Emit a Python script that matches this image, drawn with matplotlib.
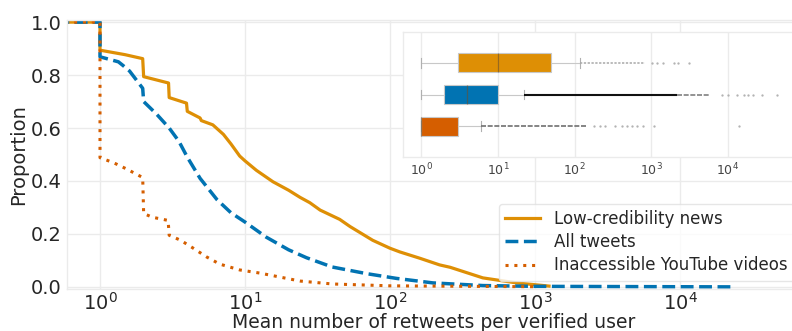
import matplotlib
matplotlib.use('Agg')
import matplotlib.pyplot as plt

# ---------------- data ----------------
series_names = ['Low-credibility news', 'All tweets', 'Inaccessible YouTube videos']

lowcred_x = [0.5, 1, 1, 1.49, 1.97, 2, 2.97, 3, 3.95, 4, 4.9, 5.0, 6.0, 7.1, 8.0, 9.2, 10,
             12, 15.6, 20, 24, 28, 33, 45, 53, 76, 100, 117, 161, 220, 260, 437, 745, 1250]
lowcred_y = [1.0, 1.0, 0.894, 0.877, 0.862, 0.794, 0.770, 0.715, 0.694, 0.663, 0.638, 0.628,
             0.612, 0.576, 0.540, 0.494, 0.476, 0.440, 0.397, 0.365, 0.338, 0.318, 0.290,
             0.255, 0.228, 0.176, 0.146, 0.132, 0.108, 0.083, 0.074, 0.034, 0.015, 0.003]

alltw_x = [0.5, 1, 1, 1.34, 1.45, 1.6, 1.97, 2, 2.46, 3, 3.5, 4, 4.9, 6.4, 8, 10, 14, 20,
           26.6, 40, 69, 111, 198, 437, 1000, 24000]
alltw_y = [1.0, 1.0, 0.869, 0.850, 0.835, 0.815, 0.750, 0.700, 0.652, 0.600, 0.550, 0.490,
           0.410, 0.330, 0.280, 0.245, 0.188, 0.140, 0.110, 0.075, 0.050, 0.032, 0.015,
           0.005, 0.002, 0.0]

yt_x = [0.5, 1, 1, 1.24, 1.53, 1.97, 2, 2.3, 2.95, 3, 3.6, 4.4, 5.44, 6.7, 9.2, 12.7, 24,
        40, 100, 1000]
yt_y = [1.0, 1.0, 0.488, 0.469, 0.445, 0.413, 0.277, 0.263, 0.251, 0.195, 0.176, 0.146,
        0.113, 0.086, 0.064, 0.052, 0.022, 0.011, 0.004, 0.0005]

# box plot summaries (inset)
box_q1 = [3, 2, 1]
box_med = [10, 4, 1]
box_q3 = [49, 10, 3]
box_whislo = [1, 1, 1]
box_whishi = [118, 22, 6]

# outliers: dense runs (start, end) and isolated points
lowcred_dense = [(118, 830)]
alltw_dense = [(22, 2150)]
alltw_semidense = [(2150, 5900)]
yt_dense = [(6, 145)]
lowcred_fliers = [1020, 1170, 1440, 1950, 2250, 3080]
alltw_fliers = [8300, 10000, 13000, 16000, 18500, 21500, 27500, 43500]
yt_fliers = [178, 215, 250, 340, 415, 480, 560, 650, 790, 1070, 13800]

y_ticks = [0.0, 0.2, 0.4, 0.6, 0.8, 1.0]
x_ticks = [1, 10, 100, 1000, 10000]

# ---------------- style ----------------
C_ORANGE = '#DE8F05'
C_BLUE = '#0173B2'
C_RED = '#D55E00'
TXT = '#262626'
GRID = '#ebebeb'

plt.rcParams['font.family'] = ['DejaVu Sans']

W, H = 792, 331
fig = plt.figure(figsize=(W / 100, H / 100), dpi=100)

ax = fig.add_axes([67 / W, 42 / H, (800 - 67) / W, 269 / H])
ax.set_xscale('log')
ax.set_xlim(10 ** -0.2276, 10 ** 4.828)
ax.set_ylim(-0.008, 1.008)

ax.plot(lowcred_x, lowcred_y, color=C_ORANGE, lw=2.3, ls='-', label=series_names[0])
ax.plot(alltw_x, alltw_y, color=C_BLUE, lw=2.5, ls='--', label=series_names[1])
ax.plot(yt_x, yt_y, color=C_RED, lw=2.2, ls=(0, (1, 1.9)), label=series_names[2])

ax.set_yticks(y_ticks)
ax.set_yticklabels([f'{v:.1f}' for v in y_ticks])
ax.set_xticks(x_ticks)
ax.minorticks_off()
ax.tick_params(axis='both', length=0, labelsize=14, labelcolor=TXT)
ax.tick_params(axis='y', pad=4)
ax.tick_params(axis='x', pad=2)
ax.grid(True, color=GRID, lw=1)
ax.set_axisbelow(True)
for s in ax.spines.values():
    s.set_color(GRID)
    s.set_linewidth(1)

ax.set_xlabel('Mean number of retweets per verified user', fontsize=13.5, color=TXT, labelpad=-0.5)
ax.set_ylabel('Proportion', fontsize=14, color=TXT, labelpad=2)

leg = ax.legend(loc='lower right', fontsize=12, frameon=True, handlelength=2.1,
                bbox_to_anchor=(794 / W, 50 / H), bbox_transform=fig.transFigure,
                borderaxespad=0, labelspacing=0.3)
leg.get_frame().set_edgecolor('#e0e0e0')
leg.get_frame().set_facecolor('white')
for t in leg.get_texts():
    t.set_color(TXT)

# ---------------- inset box plot ----------------
ax2 = fig.add_axes([403.3 / W, (H - 157.3) / H, (800 - 403.3) / W, 125.6 / H])
ax2.set_xscale('log')
ax2.set_xlim(10 ** -0.235, 10 ** 4.94)
ax2.set_ylim(3.98, 0.02)

stats = []
for i in range(3):
    stats.append(dict(med=box_med[i], q1=box_q1[i], q3=box_q3[i],
                      whislo=box_whislo[i], whishi=box_whishi[i], fliers=[]))
bp = ax2.bxp(stats, positions=[1, 2, 3], orientation='horizontal', widths=0.6,
             patch_artist=True, showfliers=False,
             boxprops=dict(edgecolor='#c8c8c8', linewidth=0.8),
             whiskerprops=dict(color='#c8c8c8', linewidth=0.8),
             capprops=dict(color='#b0b0b0', linewidth=0.8),
             medianprops=dict(color='#6a5030', linewidth=0.9, alpha=0.6))
for patch, c in zip(bp['boxes'], [C_ORANGE, C_BLUE, C_RED]):
    patch.set_facecolor(c)

for (lo, hi) in lowcred_dense:
    ax2.hlines(1, lo, hi, colors='#a8a8a8', linestyles=(0, (1.5, 1.0)), lw=1.1)
for (lo, hi) in alltw_dense:
    ax2.hlines(2, lo, hi, colors='#111111', lw=1.5)
for (lo, hi) in alltw_semidense:
    ax2.hlines(2, lo, hi, colors='#808080', linestyles=(0, (3, 1)), lw=1.2)
for (lo, hi) in yt_dense:
    ax2.hlines(3, lo, hi, colors='#707070', linestyles=(0, (3, 1)), lw=1.2)
ax2.plot(lowcred_fliers, [1] * len(lowcred_fliers), ls='none', marker='.', ms=1.3, color='#b0b0b0')
ax2.plot(alltw_fliers, [2] * len(alltw_fliers), ls='none', marker='.', ms=1.3, color='#b0b0b0')
ax2.plot(yt_fliers, [3] * len(yt_fliers), ls='none', marker='.', ms=1.3, color='#b0b0b0')

ax2.set_yticks([])
ax2.set_xticks(x_ticks)
ax2.minorticks_off()
ax2.tick_params(axis='x', length=0, labelsize=9, labelcolor='#444444', pad=3)
ax2.grid(True, axis='x', color=GRID, lw=1)
ax2.set_axisbelow(True)
ax2.set_facecolor('white')
for s in ax2.spines.values():
    s.set_color(GRID)
    s.set_linewidth(1)

fig.savefig('out.png', dpi=100)
